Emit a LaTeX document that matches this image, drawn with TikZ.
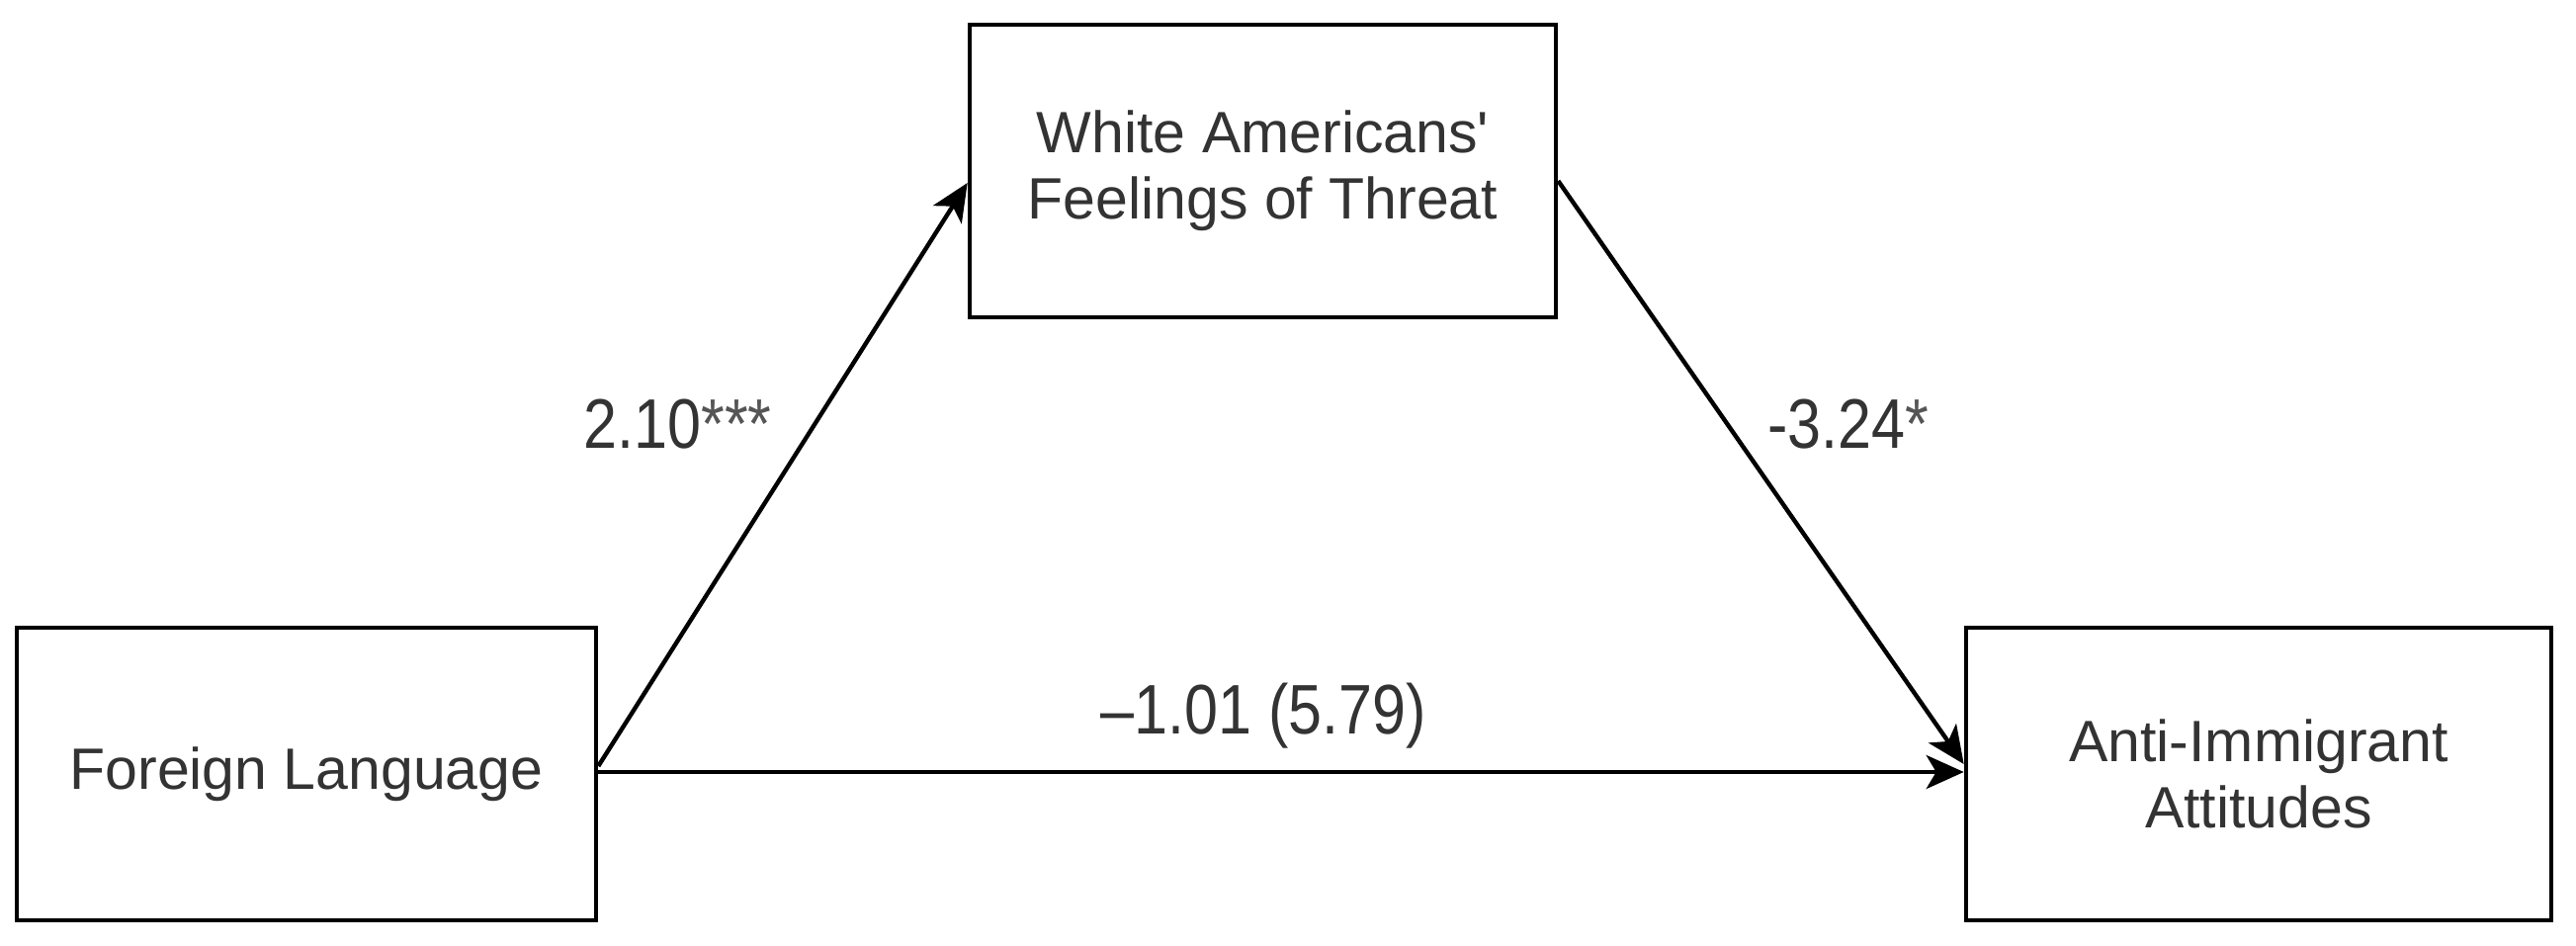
\documentclass[tikz,border=0pt]{standalone}
\usepackage{fontspec}
\setmainfont{Liberation Sans}[Ligatures=TeXOff]
\newfontfamily\labfont{Liberation Sans}[FakeStretch=0.86,Ligatures=TeXOff]
\usetikzlibrary{calc,arrows.meta}
\definecolor{txt}{HTML}{333333}
\definecolor{star}{HTML}{555555}
\begin{document}
\begin{tikzpicture}[x=0.5pt,y=-0.5pt,
  boxnode/.style={draw=black,line width=2.3pt,rectangle,minimum height=148pt,
    align=center,text=txt,inner sep=0pt,
    font=\fontsize{29.5}{33.5}\selectfont},
  arr/.style={draw=black,line width=2.2pt,
    -{Stealth[length=19pt,width=17pt,inset=5pt]}},
  lab/.style={inner sep=0pt,text=txt,font=\labfont\fontsize{35.5}{38}\selectfont}
]
\useasboundingbox (0,0) rectangle (2606,957);
\fill[white] (0,0) rectangle (2606,957);

\node[boxnode,minimum width=293pt] (fl) at (310,783) {Foreign Language};
\node[boxnode,minimum width=296.5pt] (wa) at (1277.5,173) {White Americans'\\Feelings of Threat};
\node[boxnode,minimum width=296pt] (ai) at (2285,783) {Anti-Immigrant\\Attitudes};

\draw[arr] ($(fl.east)+(0,-8)$) -- ($(wa.west)+(0,12)$);
\draw[arr] ($(wa.east)+(0,10)$) -- ($(ai.west)+(0,-10)$);
\draw[arr] ($(fl.east)+(0,-2)$) -- ($(ai.west)+(0,-2)$);

\node[lab,anchor=base west] (l1) at (590,453) {2.10\textcolor{star}{***}};
\node[lab,anchor=base west] (l2) at (1788,453) {-3.24\textcolor{star}{*}};
\node[lab,anchor=base west] (l3) at (1113,742) {–1.01 (5.79)};
\end{tikzpicture}
\end{document}
